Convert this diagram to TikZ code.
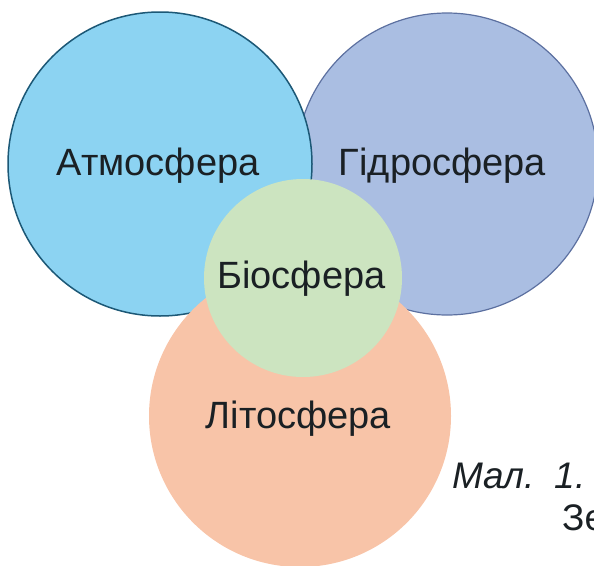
\documentclass[tikz,border=0pt]{standalone}
\usepackage{fontspec}
\setmainfont{Liberation Sans}
\definecolor{atmfill}{RGB}{140,211,242}
\definecolor{atmdraw}{RGB}{28,88,118}
\definecolor{hydfill}{RGB}{170,190,226}
\definecolor{hyddraw}{RGB}{92,112,160}
\definecolor{litfill}{RGB}{248,196,168}
\definecolor{biofill}{RGB}{204,228,192}
\definecolor{txt}{RGB}{26,32,36}
\begin{document}
\begin{tikzpicture}[x=1pt,y=-1pt,
  sphere/.style={circle,inner sep=0pt,outer sep=0pt},
  lbl/.style={anchor=base,text=txt,font=\fontsize{38}{44}\selectfont,inner sep=0pt},
  captxt/.style={anchor=base west,text=txt,font=\fontsize{37}{44}\selectfont,inner sep=0pt}]
\useasboundingbox (0,0) rectangle (594,565);
\clip (0,0) rectangle (594,565);
\node[sphere,minimum size=302pt,fill=hydfill,draw=hyddraw,line width=1.2pt] (hyd) at (447,164) {};
\node[sphere,minimum size=304pt,fill=atmfill,draw=atmdraw,line width=1.5pt] (atm) at (160,164) {};
\node[sphere,minimum size=302pt,fill=litfill] (lit) at (300,416) {};
\node[sphere,minimum size=198pt,fill=biofill] (bio) at (303,278) {};
\node[lbl] (tatm) at (158,175) {Атмосфера};
\node[lbl] (thyd) at (442.5,175) {Гідросфера};
\node[lbl] (tbio) at (301.5,288) {Біосфера};
\node[lbl] (tlit) at (298.5,428) {Літосфера};
\node[captxt] (cap1) at (452,488) {\itshape Мал.\hspace{20pt}1.};
\node[captxt] (cap2) at (562,530) {Зе};
\end{tikzpicture}
\end{document}
